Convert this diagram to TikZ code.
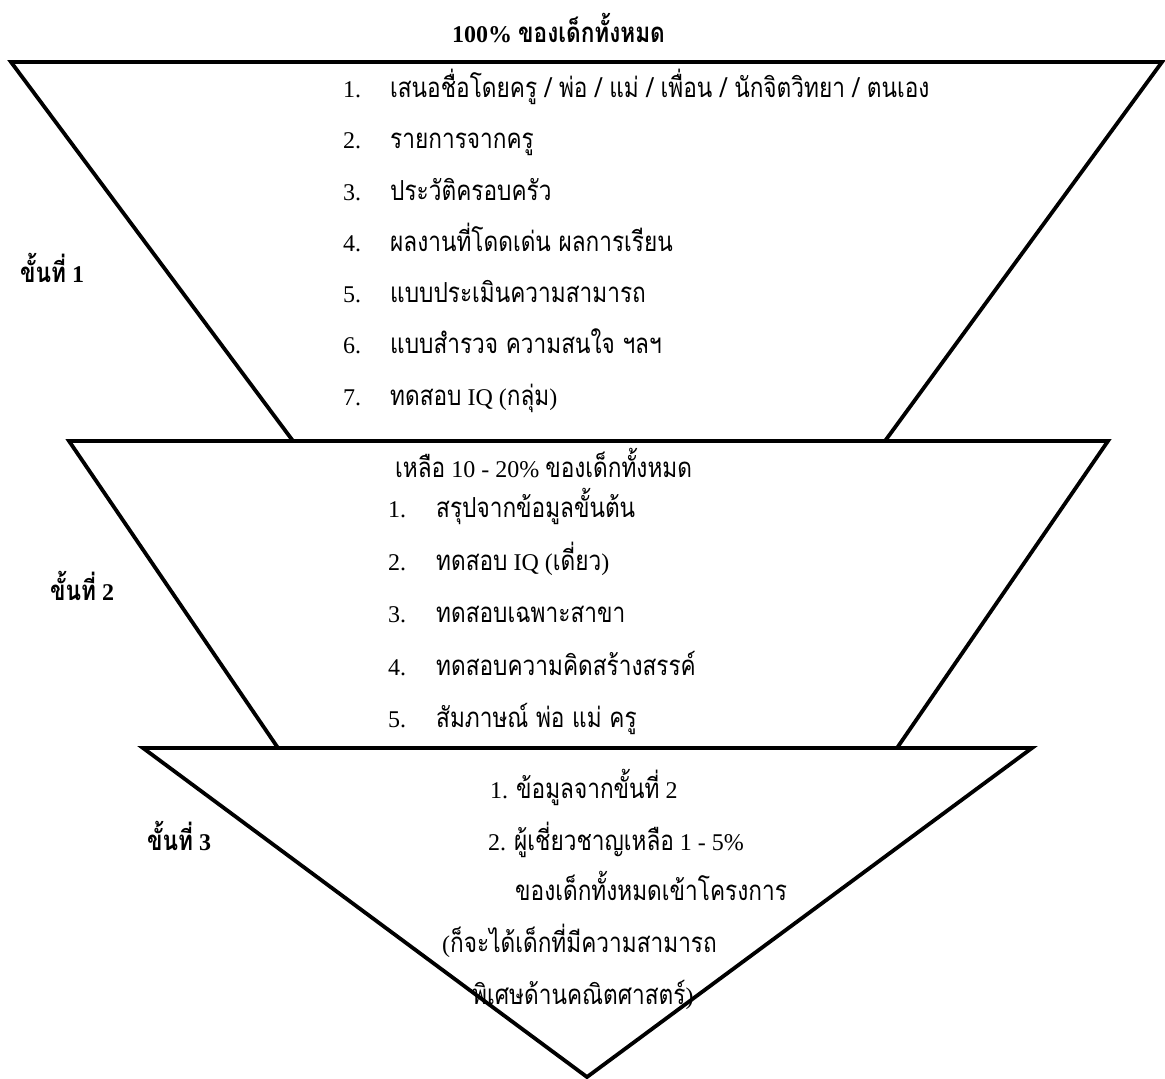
\documentclass[tikz,border=0pt]{standalone}
\usepackage{fontspec}
\setmainfont{Liberation Serif}
\newfontfamily\thf[Script=Thai,Scale=1.15,FakeStretch=0.82]{Loma}
\newcommand\thx[1]{{\thf #1}}
\begin{document}
\begin{tikzpicture}[x=1pt,y=-1pt,
  edge/.style={line width=3.8pt, line join=miter},
  txt/.style={inner sep=0pt, anchor=base west, font=\fontsize{24}{28}\selectfont},
  lbl/.style={txt, font=\fontsize{24}{28}\selectfont\bfseries}]
\useasboundingbox (0,0) rectangle (1165,1079);
% corners
\coordinate (a1) at (11,62);
\coordinate (a2) at (1162,62);
\coordinate (a3) at (885,441);
\coordinate (a4) at (293,441);
\coordinate (b1) at (69,441);
\coordinate (b2) at (1108,441);
\coordinate (b3) at (897,748);
\coordinate (b4) at (278,748);
\coordinate (c1) at (143,748);
\coordinate (c2) at (1032,748);
\coordinate (c3) at (587,1077);
\draw[edge] (a4) -- (a1) -- (a2) -- (a3);
\draw[edge] (b4) -- (b1) -- (b2) -- (b3);
\draw[edge] (c1) -- (c2) -- (c3) -- cycle;
% title
\node[lbl] (title) at (452,42) {100\% \thx{ของเด็กทั้งหมด}};
% stage labels
\node[lbl] (st1) at (20,282) {\thx{ขั้นที่} 1};
\node[lbl] (st2) at (50,600) {\thx{ขั้นที่} 2};
\node[lbl] (st3) at (147,850) {\thx{ขั้นที่} 3};
% stage 1
\node[txt] (n11) at (343,97) {1.};
\node[txt] (t11) at (390,97) {\thx{เสนอชื่อโดยครู / พ่อ / แม่ / เพื่อน / นักจิตวิทยา / ตนเอง}};
\node[txt] (n12) at (343,148) {2.};
\node[txt] (t12) at (390,148) {\thx{รายการจากครู}};
\node[txt] (n13) at (343,200) {3.};
\node[txt] (t13) at (390,200) {\thx{ประวัติครอบครัว}};
\node[txt] (n14) at (343,251) {4.};
\node[txt] (t14) at (390,251) {\thx{ผลงานที่โดดเด่น ผลการเรียน}};
\node[txt] (n15) at (343,302) {5.};
\node[txt] (t15) at (390,302) {\thx{แบบประเมินความสามารถ}};
\node[txt] (n16) at (343,353) {6.};
\node[txt] (t16) at (390,353) {\thx{แบบสำรวจ ความสนใจ ฯลฯ}};
\node[txt] (n17) at (343,405) {7.};
\node[txt] (t17) at (390,405) {\thx{ทดสอบ} IQ (\thx{กลุ่ม})};
% stage 2
\node[txt] (h2) at (395,477) {\thx{เหลือ} 10 - 20\% \thx{ของเด็กทั้งหมด}};
\node[txt] (n21) at (388,517) {1.};
\node[txt] (t21) at (436,517) {\thx{สรุปจากข้อมูลขั้นต้น}};
\node[txt] (n22) at (388,570) {2.};
\node[txt] (t22) at (436,570) {\thx{ทดสอบ} IQ (\thx{เดี่ยว})};
\node[txt] (n23) at (388,622) {3.};
\node[txt] (t23) at (436,622) {\thx{ทดสอบเฉพาะสาขา}};
\node[txt] (n24) at (388,675) {4.};
\node[txt] (t24) at (436,675) {\thx{ทดสอบความคิดสร้างสรรค์}};
\node[txt] (n25) at (388,727) {5.};
\node[txt] (t25) at (436,727) {\thx{สัมภาษณ์ พ่อ แม่ ครู}};
% stage 3
\node[txt] (t31) at (490,798) {1. \thx{ข้อมูลจากขั้นที่} 2};
\node[txt] (t32) at (488,850) {2. \thx{ผู้เชี่ยวชาญเหลือ} 1 - 5\%};
\node[txt] (t33) at (515,900) {\thx{ของเด็กทั้งหมดเข้าโครงการ}};
\node[txt] (t34) at (442,952) {(\thx{ก็จะได้เด็กที่มีความสามารถ}};
\node[txt] (t35) at (472,1004) {\thx{พิเศษด้านคณิตศาสตร์})};
\end{tikzpicture}
\end{document}
